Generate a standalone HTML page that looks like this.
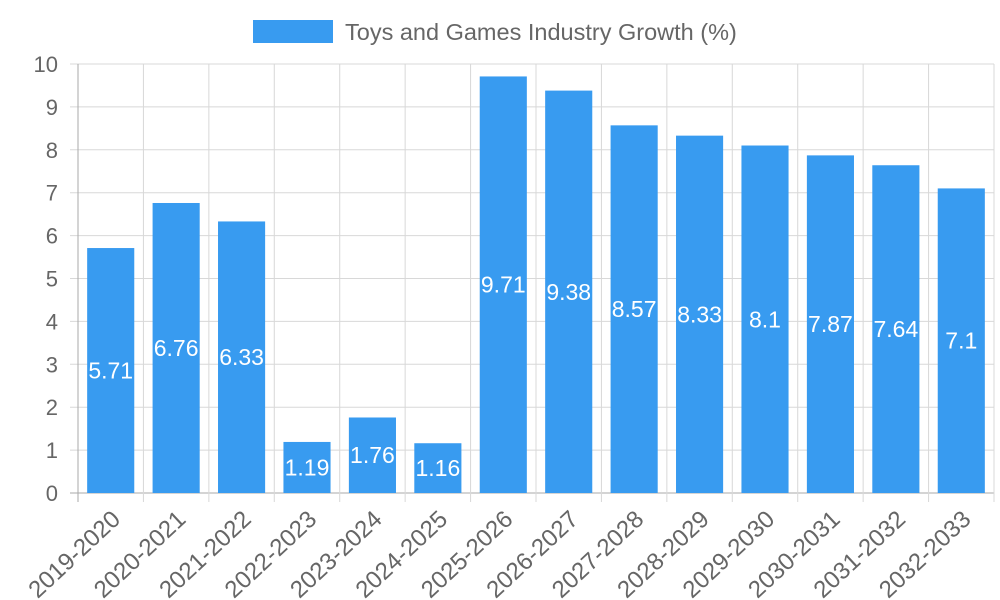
<!DOCTYPE html>
<html><head><meta charset="utf-8"><style>
html,body{margin:0;padding:0;background:#fff;}
svg{display:block;font-family:"Liberation Sans",sans-serif;}
</style></head><body>
<svg id="chart" width="1000" height="600">
<g id="legend">
<rect x="253" y="20" width="80" height="23" fill="#389bf0"></rect>
<text x="345" y="40" font-size="23.5" fill="#666">Toys and Games Industry Growth (%)</text>
</g>
</svg>
<script>
const categories=["2019-2020","2020-2021","2021-2022","2022-2023","2023-2024","2024-2025","2025-2026","2026-2027","2027-2028","2028-2029","2029-2030","2030-2031","2031-2032","2032-2033"];
const values=[5.71,6.76,6.33,1.19,1.76,1.16,9.71,9.38,8.57,8.33,8.1,7.87,7.64,7.1];
const yTicks=[0,1,2,3,4,5,6,7,8,9,10];
const svg=document.getElementById('chart');
const NS='http://www.w3.org/2000/svg';
const L=78,R=994,T=64,B=493,yMax=10;
const bw=(R-L)/categories.length;
function y(v){return B-(v/yMax)*(B-T);}
function xc(i){return L+bw*(i+0.5);}
function mk(t,a,txt){const e=document.createElementNS(NS,t);for(const k in a)e.setAttribute(k,a[k]);if(txt!==undefined)e.textContent=txt;svg.appendChild(e);return e;}
yTicks.forEach(v=>{
 const g=mk('line',{x1:70,x2:R,y1:y(v),y2:y(v),stroke:v===0?'#aaa':'#d8d8d8','stroke-width':1});
 
 
 const t=mk('text',{x:58,y:y(v)+8,'font-size':22,fill:'#666','text-anchor':'end'},String(v));
 
 
});
for(let i=0;i<=categories.length;i++){
 const x=L+bw*i;
 const g=mk('line',{x1:x,x2:x,y1:T,y2:B+9,stroke:i===0?'#aaa':'#d8d8d8','stroke-width':1});
 
 
}
categories.forEach((c,i)=>{
 const w=bw*0.72;
 const r=mk('rect',{x:xc(i)-w/2,y:y(values[i]),width:w,height:B-y(values[i]),fill:'#389bf0'});
 
 
 const lv=mk('text',{x:xc(i),y:(y(values[i])+B)/2+8,'font-size':23,fill:'#fff','text-anchor':'middle'},String(values[i]));
 
 
 const tx=xc(i)+11,ty=B+28;
 const t=mk('text',{x:tx,y:ty,'font-size':24,fill:'#666','text-anchor':'end',transform:`rotate(-43 ${tx} ${ty})`},c);
 
 
});
</script>
</body></html>
